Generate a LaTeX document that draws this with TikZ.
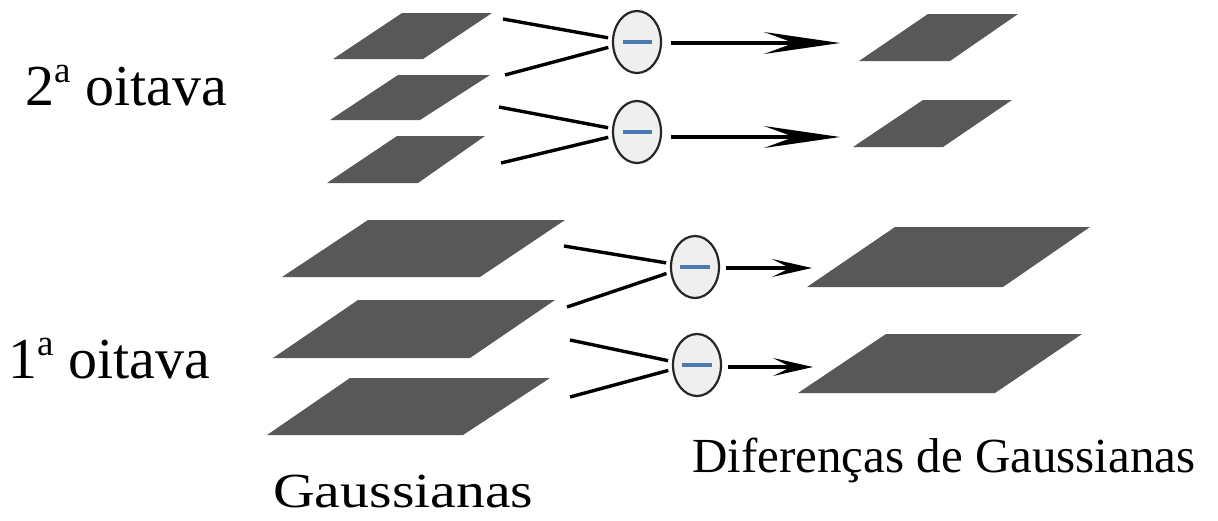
\documentclass[tikz,border=0pt]{standalone}
\usepackage{fontspec}
\setmainfont{Liberation Serif}
\usetikzlibrary{arrows.meta,shapes.geometric}

\definecolor{plategray}{HTML}{585858}
\definecolor{opfill}{HTML}{EFEFEF}
\definecolor{minusblue}{HTML}{4A7AB0}

\tikzset{
  plate/.style={fill=plategray},
  diffop/.style={ellipse, draw=black!85, line width=2.2pt, fill=opfill,
                 minimum width=48pt, minimum height=62pt, inner sep=0pt},
  minusbar/.style={draw=minusblue, line width=3.5pt},
  fork/.style={line width=3.4pt, shorten >=4pt},
  longarrow/.style={line width=3.6pt, shorten <=9pt,
                    -{Stealth[length=76pt,width=22pt,inset=30pt,line width=2.2pt]}},
  shortarrow/.style={line width=3.4pt, shorten <=6pt,
                     -{Stealth[length=40pt,width=18pt,inset=18pt,line width=2pt]}},
  octlabel/.style={anchor=base west, inner sep=0pt, font=\fontsize{58}{60}\selectfont},
  captext/.style={anchor=base west, inner sep=0pt, font=\fontsize{49}{52}\selectfont}
}
% raised ordinal indicator
\newcommand{\ordsup}{\raisebox{23pt}{\fontsize{37}{37}\selectfont a}}

\begin{document}
\begin{tikzpicture}[x=1pt, y=-1pt]
\useasboundingbox (0,0) rectangle (1218,520);

% second octave: three Gaussian levels
\fill[plate] (402,13)  -- (492,13)  -- (423,59)  -- (333,59)  -- cycle;
\fill[plate] (398,75)  -- (490,75)  -- (420,120) -- (330,120) -- cycle;
\fill[plate] (397,136) -- (485,136) -- (418,183) -- (327,183) -- cycle;

% second octave: differences
\fill[plate] (928,14)  -- (1018,14) -- (950,61)  -- (859,61)  -- cycle;
\fill[plate] (923,100) -- (1012,100) -- (943,147) -- (853,147) -- cycle;

% first octave: three Gaussian levels
\fill[plate] (368,220) -- (565,220) -- (480,277) -- (282,277) -- cycle;
\fill[plate] (358,300) -- (555,300) -- (470,358) -- (273,358) -- cycle;
\fill[plate] (350,378) -- (550,378) -- (463,435) -- (267,435) -- cycle;

% first octave: differences
\fill[plate] (895,227) -- (1090,227) -- (1003,287) -- (807,287) -- cycle;
\fill[plate] (886,334) -- (1082,334) -- (995,393) -- (798,393) -- cycle;

% subtraction operators
\node[diffop] (d1) at (637,42)  {};
\node[diffop] (d2) at (637,132) {};
\node[diffop] (d3) at (695,267) {};
\node[diffop] (d4) at (697,365) {};

\foreach \d/\w in {d1/14.5, d2/14.5, d3/15, d4/15}
  \draw[minusbar] ([xshift=-\w pt]\d.center) -- ([xshift=\w pt]\d.center);

% inputs of each operator
\coordinate (a1) at (503,19);  \coordinate (b1) at (505,75);
\coordinate (a2) at (499,107); \coordinate (b2) at (501,163);
\coordinate (a3) at (564,246); \coordinate (b3) at (567,307);
\coordinate (a4) at (570,340); \coordinate (b4) at (570,397);

\draw[fork] (a1) -- (d1.172);  \draw[fork] (b1) -- (d1.190);
\draw[fork] (a2) -- (d2.172);  \draw[fork] (b2) -- (d2.190);
\draw[fork] (a3) -- (d3.172);  \draw[fork] (b3) -- (d3.192);
\draw[fork] (a4) -- (d4.172);  \draw[fork] (b4) -- (d4.190);

% outputs
\coordinate (t1) at (840,43);
\coordinate (t2) at (840,137);
\coordinate (t3) at (812,268);
\coordinate (t4) at (813,367);

\draw[longarrow]  (d1.east |- t1) -- (t1);
\draw[longarrow]  (d2.east |- t2) -- (t2);
\draw[shortarrow] (d3.east |- t3) -- (t3);
\draw[shortarrow] (d4.east |- t4) -- (t4);

% labels
\node[octlabel] (oct2) at (25,105) {2\ordsup{} oitava};
\node[octlabel] (oct1) at (8,378)  {1\ordsup{} oitava};
\node[captext] (gauss) at (273,507) {\scalebox{1.18}[1]{Gaussianas}};
\node[captext] (dog) at (692,472) {Diferenças de Gaussianas};
\end{tikzpicture}
\end{document}
